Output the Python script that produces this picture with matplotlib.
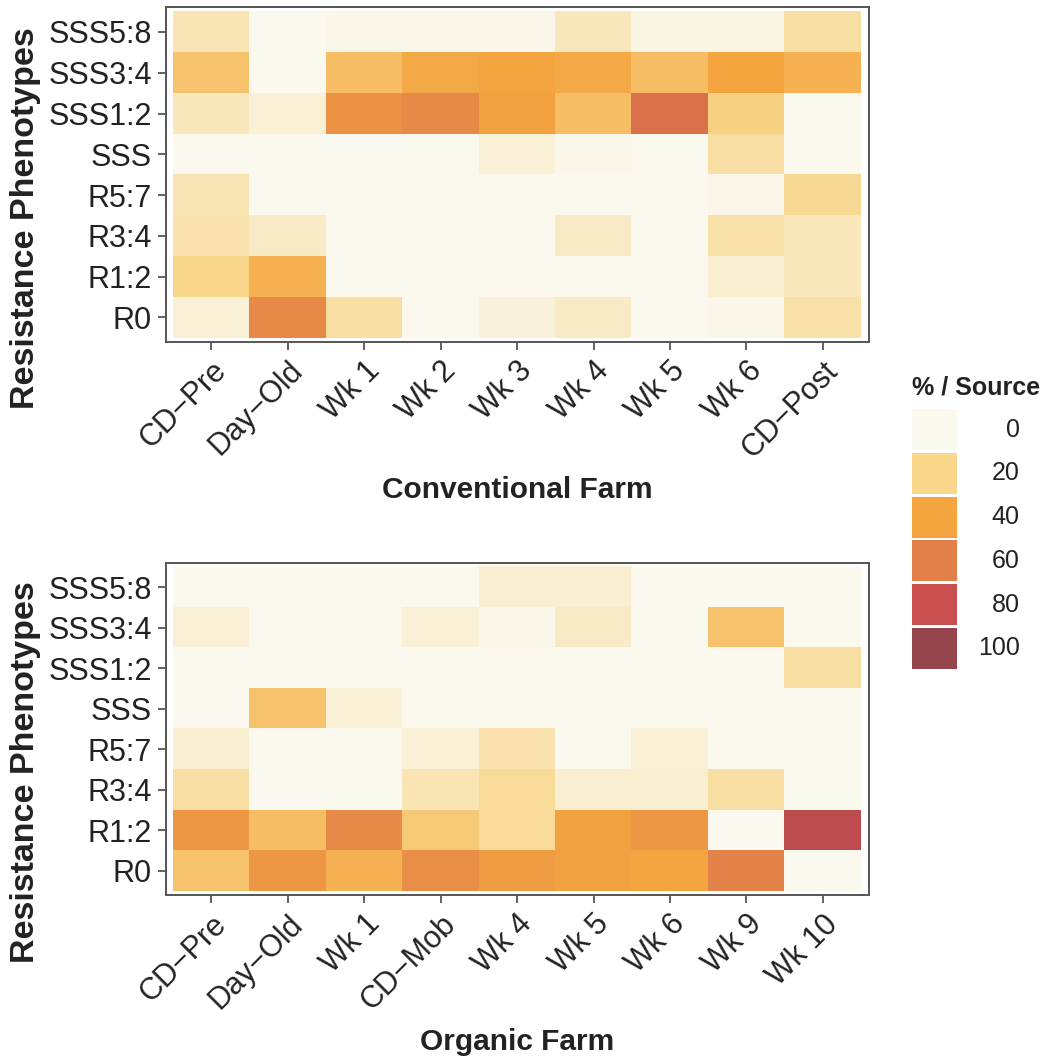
import numpy as np
import matplotlib
matplotlib.use("Agg")
import matplotlib.pyplot as plt
from matplotlib.colors import LinearSegmentedColormap, Normalize
from matplotlib.patches import Rectangle

plt.rcParams["font.family"] = ["Liberation Sans", "DejaVu Sans"]

phenotypes = ["SSS5:8", "SSS3:4", "SSS1:2", "SSS", "R5:7", "R3:4", "R1:2", "R0"]

conv_sources = ["CD\u2212Pre", "Day\u2212Old", "Wk 1", "Wk 2", "Wk 3", "Wk 4", "Wk 5", "Wk 6", "CD\u2212Post"]
org_sources = ["CD\u2212Pre", "Day\u2212Old", "Wk 1", "CD\u2212Mob", "Wk 4", "Wk 5", "Wk 6", "Wk 9", "Wk 10"]

# % per source, rows follow phenotypes (top to bottom)
conv_pct = [
    [12, 0, 1, 1, 1, 10, 2, 2, 15],
    [28, 0, 30, 38, 40, 38, 30, 40, 35],
    [10, 5, 50, 55, 42, 30, 66, 22, 0],
    [0, 0, 0, 0, 5, 1, 0, 15, 0],
    [12, 0, 0, 0, 0, 0, 0, 1, 18],
    [13, 8, 0, 0, 0, 8, 0, 14, 10],
    [20, 35, 0, 0, 0, 0, 0, 6, 10],
    [5, 55, 15, 0, 4, 8, 0, 1, 14],
]
org_pct = [
    [0, 0, 0, 0, 6, 6, 0, 0, 0],
    [5, 0, 0, 5, 1, 8, 0, 28, 0],
    [0, 0, 0, 0, 0, 0, 0, 0, 15],
    [0, 28, 5, 0, 0, 0, 0, 0, 0],
    [6, 0, 0, 5, 13, 0, 5, 0, 0],
    [15, 0, 0, 12, 17, 6, 6, 15, 0],
    [48, 30, 55, 25, 17, 42, 48, 0, 85],
    [28, 48, 35, 52, 45, 42, 40, 58, 0],
]

legend_vals = [0, 20, 40, 60, 80, 100]
stop_colors = ["#FBF8EE", "#F8D68A", "#F4A540", "#E3804A", "#C9504E", "#96444D"]

cmap = LinearSegmentedColormap.from_list("pct", list(zip(np.array(legend_vals) / 100, stop_colors)))
norm = Normalize(0, 100)

fig = plt.figure(figsize=(10.48, 10.62), dpi=100)

spine_col = "#555555"
txt_col = "#222222"


def draw_panel(rect, pct, sources, title):
    ax = fig.add_axes(rect)
    ax.imshow(np.array(pct), cmap=cmap, norm=norm, aspect="auto", interpolation="nearest")
    ax.set_xlim(-0.6, len(sources) - 0.4)
    ax.set_ylim(len(phenotypes) - 0.4, -0.6)
    ax.set_xticks(range(len(sources)))
    ax.set_xticklabels(sources, rotation=45, ha="right", rotation_mode="anchor")
    ax.set_yticks(range(len(phenotypes)))
    ax.set_yticklabels(phenotypes)
    ax.tick_params(length=6, width=1.3, color=spine_col, labelsize=22, labelcolor=txt_col, pad=4)
    for s in ax.spines.values():
        s.set_color(spine_col)
        s.set_linewidth(1.4)
    # little breaks in the top / right border at tick positions
    top = ax.secondary_xaxis("top")
    top.set_xticks(range(len(sources)))
    top.tick_params(direction="inout", length=5, width=3, color="white", labeltop=False)
    top.spines["top"].set_visible(False)
    right = ax.secondary_yaxis("right")
    right.set_yticks(range(len(phenotypes)))
    right.tick_params(direction="inout", length=5, width=3, color="white", labelright=False)
    right.spines["right"].set_visible(False)

    ax.set_xlabel(title, fontsize=21.5, fontweight="bold", color=txt_col)
    ax.xaxis.set_label_coords(0.5, -0.40)
    ax.set_ylabel("Resistance Phenotypes", fontsize=24.5, fontweight="bold", color=txt_col)
    ax.yaxis.set_label_coords(-0.177, 0.37)
    return ax


ax1 = draw_panel([0.158, 0.678, 0.671, 0.315], conv_pct, conv_sources, "Conventional Farm")
ax2 = draw_panel([0.158, 0.157, 0.671, 0.313], org_pct, org_sources, "Organic Farm")

# legend of colour keys
lax = fig.add_axes([0.870, 0.369, 0.103, 0.247])
lax.set_xlim(0, 1)
lax.set_ylim(len(legend_vals), 0)
lax.axis("off")
for i, v in enumerate(legend_vals):
    lax.add_patch(Rectangle((0.0, i + 0.03), 0.42, 0.94, color=cmap(norm(v)), lw=0))
    lax.text(1.0, i + 0.5, str(v), ha="right", va="center", fontsize=18, color=txt_col)
lax.text(0.0, -0.46, "% / Source", ha="left", va="center", fontsize=18, fontweight="bold", color=txt_col)

fig.savefig("out.png", dpi=100)
